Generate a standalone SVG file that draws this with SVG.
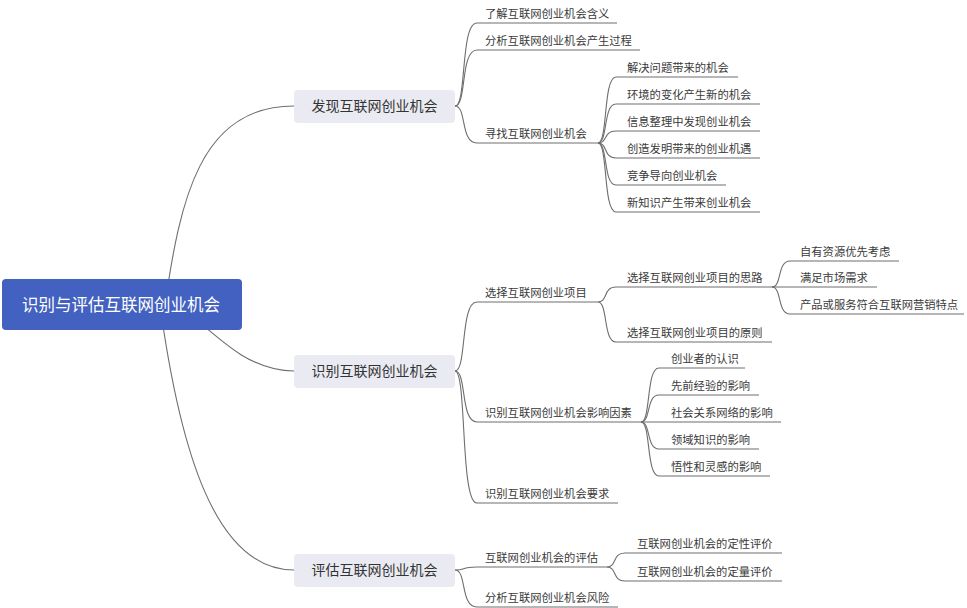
<svg xmlns="http://www.w3.org/2000/svg" width="967" height="608" viewBox="0 0 967 608">
<style>
.c{fill:none;stroke:#6e6e6e;stroke-width:1.1}
.t{font-family:"Noto Sans CJK SC","Liberation Sans",sans-serif;font-size:11.3px;fill:#3a3a3a}
.m{font-family:"Noto Sans CJK SC","Liberation Sans",sans-serif;font-size:14px;fill:#333;text-anchor:middle}
.mb{fill:#eaeaf2}
.r{font-family:"Noto Sans CJK SC","Liberation Sans",sans-serif;font-size:16.5px;fill:#fff;text-anchor:middle}
</style>
<rect width="967" height="608" fill="#fff"/>
<g id="connectors">
<path class="c" d="M165,305 C180,200 200,106 294,106"/>
<path class="c" d="M180,305 C220,340 250,371 294,371"/>
<path class="c" d="M160,305 C180,450 215,570 294,570"/>
<!-- 发现 -->
<path class="c" d="M455,106 C467,106 460,23 477,23 L617,23"/>
<path class="c" d="M455,106 C467,106 460,50 477,50 L640,50"/>
<path class="c" d="M455,106 C467,106 460,143 477,143 L598,143"/>
<path class="c" d="M598,143 C608,143 603,77 616,77 L738,77"/>
<path class="c" d="M598,143 C608,143 603,104 616,104 L760,104"/>
<path class="c" d="M598,143 C608,143 603,131 616,131 L760,131"/>
<path class="c" d="M598,143 C608,143 603,158 616,158 L760,158"/>
<path class="c" d="M598,143 C608,143 603,185 616,185 L726,185"/>
<path class="c" d="M598,143 C608,143 603,212 616,212 L760,212"/>
<!-- 识别 -->
<path class="c" d="M455,371 C467,371 460,302 477,302 L598,302"/>
<path class="c" d="M455,371 C467,371 460,422 477,422 L641,422"/>
<path class="c" d="M455,371 C467,371 460,503 477,503 L618,503"/>
<path class="c" d="M598,302 C608,302 603,287 616,287 L772,287"/>
<path class="c" d="M598,302 C608,302 603,342 616,342 L772,342"/>
<path class="c" d="M772,287 C782,287 777,261 790,261 L899,261"/>
<path class="c" d="M772,287 C782,287 777,287 790,287 L877,287"/>
<path class="c" d="M772,287 C782,287 777,314 790,314 L964,314"/>
<path class="c" d="M641,422 C651,422 646,368 659,368 L745,368"/>
<path class="c" d="M641,422 C651,422 646,395 659,395 L759,395"/>
<path class="c" d="M641,422 C651,422 646,422 659,422 L781,422"/>
<path class="c" d="M641,422 C651,422 646,449 659,449 L759,449"/>
<path class="c" d="M641,422 C651,422 646,476 659,476 L770,476"/>
<!-- 评估 -->
<path class="c" d="M455,570 C467,570 460,567 477,567 L607,567"/>
<path class="c" d="M455,570 C467,570 460,607 477,607 L618,607"/>
<path class="c" d="M607,567 C617,567 612,553 625,553 L782,553"/>
<path class="c" d="M607,567 C617,567 612,581 625,581 L782,581"/>
</g>
<g id="root"><rect x="2" y="279" width="240" height="51" rx="4" fill="#4261c0"/><text class="r" x="121" y="311">识别与评估互联网创业机会</text></g>
<g id="n1"><rect class="mb" x="294" y="90" width="161" height="33" rx="4"/><text class="m" x="374.5" y="111.3">发现互联网创业机会</text></g>
<g id="n2"><rect class="mb" x="294" y="355" width="161" height="33" rx="4"/><text class="m" x="374.5" y="376.3">识别互联网创业机会</text></g>
<g id="n3"><rect class="mb" x="294" y="554" width="161" height="33" rx="4"/><text class="m" x="374.5" y="575.3">评估互联网创业机会</text></g>
<g id="n1a"><text class="t" x="485" y="17.5">了解互联网创业机会含义</text></g>
<g id="n1b"><text class="t" x="485" y="44.5">分析互联网创业机会产生过程</text></g>
<g id="n1c"><text class="t" x="485" y="137.5">寻找互联网创业机会</text></g>
<g id="n1c1"><text class="t" x="627" y="71.5">解决问题带来的机会</text></g>
<g id="n1c2"><text class="t" x="627" y="98.5">环境的变化产生新的机会</text></g>
<g id="n1c3"><text class="t" x="627" y="125.5">信息整理中发现创业机会</text></g>
<g id="n1c4"><text class="t" x="627" y="152.5">创造发明带来的创业机遇</text></g>
<g id="n1c5"><text class="t" x="627" y="179.5">竞争导向创业机会</text></g>
<g id="n1c6"><text class="t" x="627" y="206.5">新知识产生带来创业机会</text></g>
<g id="n2a"><text class="t" x="485" y="296.5">选择互联网创业项目</text></g>
<g id="n2a1"><text class="t" x="627" y="281.5">选择互联网创业项目的思路</text></g>
<g id="n2a1a"><text class="t" x="800" y="255.5">自有资源优先考虑</text></g>
<g id="n2a1b"><text class="t" x="800" y="281.5">满足市场需求</text></g>
<g id="n2a1c"><text class="t" x="800" y="308.5">产品或服务符合互联网营销特点</text></g>
<g id="n2a2"><text class="t" x="627" y="336.5">选择互联网创业项目的原则</text></g>
<g id="n2b"><text class="t" x="485" y="416.5">识别互联网创业机会影响因素</text></g>
<g id="n2b1"><text class="t" x="671" y="362.5">创业者的认识</text></g>
<g id="n2b2"><text class="t" x="671" y="389.5">先前经验的影响</text></g>
<g id="n2b3"><text class="t" x="671" y="416.5">社会关系网络的影响</text></g>
<g id="n2b4"><text class="t" x="671" y="443.5">领域知识的影响</text></g>
<g id="n2b5"><text class="t" x="671" y="470.5">悟性和灵感的影响</text></g>
<g id="n2c"><text class="t" x="485" y="497.5">识别互联网创业机会要求</text></g>
<g id="n3a"><text class="t" x="485" y="561.5">互联网创业机会的评估</text></g>
<g id="n3a1"><text class="t" x="637" y="547.5">互联网创业机会的定性评价</text></g>
<g id="n3a2"><text class="t" x="637" y="575.5">互联网创业机会的定量评价</text></g>
<g id="n3b"><text class="t" x="485" y="601.5">分析互联网创业机会风险</text></g>
</svg>
